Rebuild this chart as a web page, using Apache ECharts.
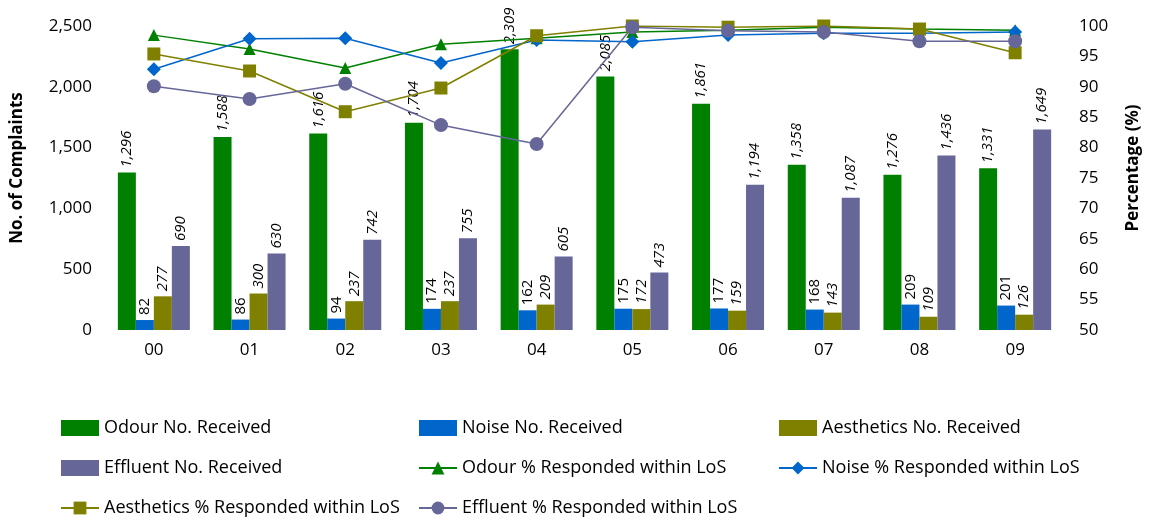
<!DOCTYPE html>
<html>
<head>
<meta charset="utf-8">
<script src="https://cdn.jsdelivr.net/npm/echarts@6/dist/echarts.min.js"></script>
<style>
  html, body { margin: 0; padding: 0; background: #fff; }
  #chart { width: 1150px; height: 525px; }
</style>
</head>
<body>
<div id="chart"></div>
<script>
var categories = ['00', '01', '02', '03', '04', '05', '06', '07', '08', '09'];

var odourNo = [1296, 1588, 1616, 1704, 2309, 2085, 1861, 1358, 1276, 1331];
var noiseNo = [82, 86, 94, 174, 162, 175, 177, 168, 209, 201];
var aestheticsNo = [277, 300, 237, 237, 209, 172, 159, 143, 109, 126];
var effluentNo = [690, 630, 742, 755, 605, 473, 1194, 1087, 1436, 1649];

var odourPct = [98.5, 96.2, 93.1, 97.0, 98.0, 99.0, 99.3, 99.8, 99.5, 99.3];
var noisePct = [92.9, 97.9, 98.0, 93.9, 97.7, 97.4, 98.5, 98.8, 98.8, 99.0];
var aestheticsPct = [95.4, 92.6, 85.9, 89.8, 98.4, 100.0, 99.8, 100.0, 99.5, 95.6];
var effluentPct = [90.1, 88.0, 90.5, 83.7, 80.6, 99.8, 99.2, 99.0, 97.5, 97.5];

var font = '"Open Sans", "Noto Sans", sans-serif';
var green = '#008000', blue = '#0066cc', olive = '#808000', purple = '#666699';

function barSeries(name, data, color, italic) {
  return {
    name: name,
    type: 'bar',
    data: data,
    barWidth: 18,
    barGap: '0%',
    itemStyle: { color: color },
    label: {
      show: true,
      position: 'top',
      rotate: 90,
      align: 'left',
      verticalAlign: 'middle',
      distance: 5,
      color: '#000',
      fontFamily: font,
      fontSize: 15,
      fontStyle: italic ? 'italic' : 'normal',
      formatter: function(p) { return p.value.toLocaleString('en-US'); }
    }
  };
}

function lineSeries(name, data, color, symbol, size) {
  return {
    name: name,
    type: 'line',
    yAxisIndex: 1,
    data: data,
    symbol: symbol,
    symbolSize: size,
    lineStyle: { color: color, width: 1.5 },
    itemStyle: { color: color },
    z: 5
  };
}

// legend items: bars get a square-cornered box
function legendItems(names) {
  return names.map(function(n) {
    return n.indexOf('No. Received') >= 0 ? { name: n, icon: 'rect' } : { name: n };
  });
}

var legendBase = {
  orient: 'vertical',
  top: 419,
  padding: 0,
  itemWidth: 38,
  itemHeight: 16,
  itemGap: 22,
  textStyle: { color: '#000', fontFamily: font, fontSize: 18 }
};

var titleStyle = { color: '#000', fontSize: 17, fontWeight: 'bold', fontFamily: font, padding: [0, 0, 0, 20] };

var chart = echarts.init(document.getElementById('chart'), null, { renderer: 'canvas' });
chart.setOption({
  animation: false,
  textStyle: { fontFamily: font },
  legend: [
    Object.assign({}, legendBase, { left: 60, data: legendItems(['Odour No. Received', 'Effluent No. Received', 'Aesthetics % Responded within LoS']) }),
    Object.assign({}, legendBase, { left: 418, data: legendItems(['Noise No. Received', 'Odour % Responded within LoS', 'Effluent % Responded within LoS']) }),
    Object.assign({}, legendBase, { left: 778, data: legendItems(['Aesthetics No. Received', 'Noise % Responded within LoS']) })
  ],
  grid: { left: 106, right: 77, top: 26, bottom: 195 },
  xAxis: {
    type: 'category',
    data: categories,
    axisLine: { show: false },
    axisTick: { show: false },
    axisLabel: { color: '#000', fontSize: 17, fontFamily: font, margin: 12 }
  },
  yAxis: [{
    type: 'value',
    min: 0,
    max: 2500,
    interval: 500,
    name: 'No. of Complaints',
    nameLocation: 'middle',
    nameRotate: 90,
    nameGap: 80,
    nameTextStyle: titleStyle,
    axisLine: { show: false },
    axisTick: { show: false },
    splitLine: { show: false },
    axisLabel: {
      color: '#000', fontSize: 17, fontFamily: font, margin: 14,
      formatter: function(v) { return v.toLocaleString('en-US'); }
    }
  }, {
    type: 'value',
    min: 50,
    max: 100,
    interval: 5,
    position: 'right',
    name: 'Percentage (%)',
    nameLocation: 'middle',
    nameRotate: 90,
    nameGap: 62,
    nameTextStyle: titleStyle,
    axisLine: { show: false },
    axisTick: { show: false },
    splitLine: { show: false },
    axisLabel: { color: '#000', fontSize: 17, fontFamily: font, margin: 16 }
  }],
  series: [
    barSeries('Odour No. Received', odourNo, green, true),
    barSeries('Noise No. Received', noiseNo, blue, false),
    barSeries('Aesthetics No. Received', aestheticsNo, olive, true),
    barSeries('Effluent No. Received', effluentNo, purple, true),
    lineSeries('Odour % Responded within LoS', odourPct, green, 'triangle', 12),
    lineSeries('Noise % Responded within LoS', noisePct, blue, 'diamond', 14),
    lineSeries('Aesthetics % Responded within LoS', aestheticsPct, olive, 'rect', 13),
    lineSeries('Effluent % Responded within LoS', effluentPct, purple, 'circle', 14)
  ]
});
window.addEventListener('resize', function() { chart.resize(); });
</script>
</body>
</html>
